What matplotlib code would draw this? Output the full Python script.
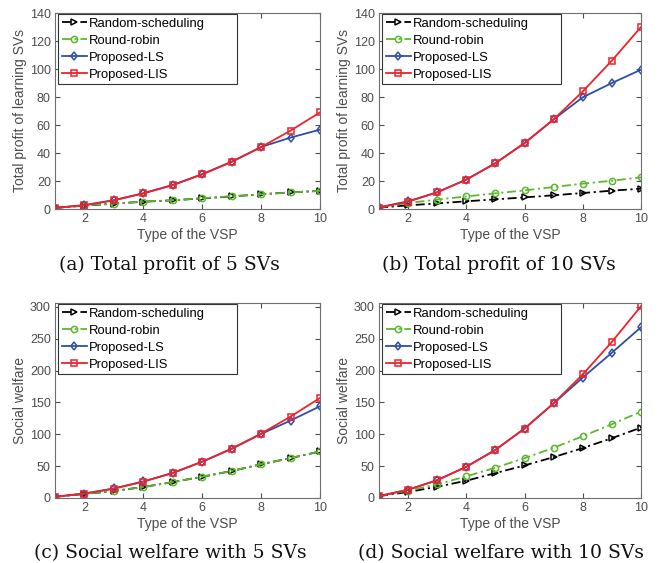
import matplotlib
matplotlib.use("Agg")
import matplotlib.pyplot as plt

x = list(range(1, 11))

# (a) Total profit of 5 SVs
a_random = [0.8, 2.4, 3.8, 5.2, 6.2, 7.6, 9.0, 10.5, 11.9, 12.9]
a_rr     = [0.8, 2.5, 3.9, 5.3, 6.3, 7.7, 9.1, 10.5, 11.8, 13.0]
a_ls     = [0.8, 2.8, 6.3, 11.3, 17.2, 24.9, 33.8, 44.3, 51.0, 56.7]
a_lis    = [0.8, 2.6, 6.2, 11.1, 17.0, 24.7, 33.6, 44.2, 56.0, 69.0]

# (b) Total profit of 10 SVs
b_random = [1.0, 2.6, 4.0, 5.5, 6.9, 8.3, 9.8, 11.4, 13.1, 14.5]
b_rr     = [1.0, 4.3, 6.7, 9.0, 11.2, 13.3, 15.7, 18.1, 20.2, 22.6]
b_ls     = [1.2, 5.5, 12.0, 21.0, 32.8, 47.0, 64.0, 79.8, 90.0, 99.5]
b_lis    = [1.0, 5.2, 11.9, 21.0, 32.6, 47.2, 64.0, 84.0, 106.0, 130.0]

# (c) Social welfare with 5 SVs
c_random = [2.0, 6.3, 11.0, 17.2, 25.0, 33.4, 42.3, 53.0, 62.6, 73.0]
c_rr     = [2.0, 6.3, 11.0, 17.2, 25.0, 33.4, 42.3, 53.0, 62.6, 73.0]
c_ls     = [2.0, 7.0, 15.0, 26.0, 39.0, 57.0, 77.0, 100.5, 121.5, 144.0]
c_lis    = [2.0, 6.8, 14.6, 25.6, 39.6, 56.9, 77.5, 101.0, 127.8, 157.0]

# (d) Social welfare with 10 SVs
d_random = [3.0, 9.4, 17.7, 27.1, 39.1, 51.1, 64.2, 78.3, 93.9, 110.5]
d_rr     = [3.0, 11.5, 21.4, 34.0, 47.5, 62.6, 78.8, 97.0, 115.8, 135.5]
d_ls     = [3.0, 13.0, 28.0, 49.0, 75.6, 109.0, 148.5, 189.0, 228.0, 268.0]
d_lis    = [3.0, 13.0, 28.0, 49.0, 75.6, 109.0, 148.7, 194.0, 245.0, 301.0]

series_names = ["Random-scheduling", "Round-robin", "Proposed-LS", "Proposed-LIS"]
ylabels = ["Total profit of learning SVs", "Total profit of learning SVs",
           "Social welfare", "Social welfare"]
xlabel = "Type of the VSP"
captions = ["(a) Total profit of 5 SVs", "(b) Total profit of 10 SVs",
            "(c) Social welfare with 5 SVs", "(d) Social welfare with 10 SVs"]
yticks_profit = [0, 20, 40, 60, 80, 100, 120, 140]
yticks_welfare = [0, 50, 100, 150, 200, 250, 300]
xticks = [2, 4, 6, 8, 10]

panels = [
    (a_random, a_rr, a_ls, a_lis),
    (b_random, b_rr, b_ls, b_lis),
    (c_random, c_rr, c_ls, c_lis),
    (d_random, d_rr, d_ls, d_lis),
]

styles = [
    dict(color="#000000", linestyle=(0, (5, 2, 1.2, 2)), marker=">"),
    dict(color="#5cb82e", linestyle=(0, (5, 2, 1.2, 2)), marker="o"),
    dict(color="#2f4fa2", linestyle="-", marker="d"),
    dict(color="#f0222a", linestyle="-", marker="s"),
]

W, H = 660, 563
fig = plt.figure(figsize=(W / 100, H / 100), dpi=100)
plt.rcParams["font.family"] = ["Liberation Sans", "DejaVu Sans"]

boxes = [(55, 320, 13, 209), (379, 641, 13, 209),
         (55, 320, 303, 498), (379, 641, 303, 498)]
caption_pos = [(169, 265), (499, 265), (170, 553), (501, 553)]
gray = "#4d4d4d"

for i, (data, (l, r, t, b)) in enumerate(zip(panels, boxes)):
    ax = fig.add_axes([l / W, 1 - b / H, (r - l) / W, (b - t) / H])
    for s, (vals, st, name) in enumerate(zip(data, styles, series_names)):
        ax.plot(x, vals, label=name, linewidth=1.3, markersize=4.5,
                markerfacecolor="none", markeredgewidth=1.1, **st)
    ax.set_xlim(1, 10)
    ax.set_xticks(xticks)
    if i < 2:
        ax.set_ylim(0, 140)
        ax.set_yticks(yticks_profit)
    else:
        ax.set_ylim(0, 306)
        ax.set_yticks(yticks_welfare)
    ax.tick_params(direction="in", top=True, right=True, length=3.5,
                   labelsize=9, colors=gray, width=0.8, pad=3)
    for sp in ax.spines.values():
        sp.set_color("#6e6e6e")
        sp.set_linewidth(0.8)
    ax.set_xlabel(xlabel, fontsize=10, color=gray, labelpad=2)
    ax.set_ylabel(ylabels[i], fontsize=10, color=gray, labelpad=2)
    aw = r - l
    ah = b - t
    lx0 = 3 / aw
    lw = 179 / aw
    ly1 = 1 - 1 / ah
    leg = ax.legend(loc="upper left", bbox_to_anchor=(lx0, ly1 - 0.4, lw, 0.4),
                    mode="expand", fontsize=9.4, frameon=True, fancybox=False,
                    edgecolor="#333333", handlelength=1.9, handletextpad=0.15,
                    borderpad=0.3, labelspacing=0.36, borderaxespad=0.0,
                    framealpha=1)
    leg.get_frame().set_linewidth(0.8)
    cx, cy = caption_pos[i]
    fig.text(cx / W, 1 - cy / H, captions[i], ha="center", va="center",
             fontsize=13.5, family=["DejaVu Serif"], color="#111111")

fig.savefig("out.png", dpi=100)
